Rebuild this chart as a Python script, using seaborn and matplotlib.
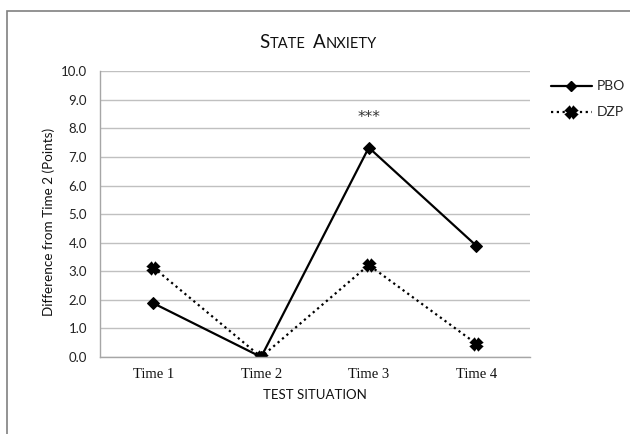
import matplotlib
matplotlib.use("Agg")
import matplotlib.pyplot as plt
import seaborn as sns
import pandas as pd
from matplotlib.lines import Line2D
from matplotlib.patches import Rectangle

categories = ["Time 1", "Time 2", "Time 3", "Time 4"]
pbo = [1.88, 0.0, 7.33, 3.89]
dzp = [3.13, 0.0, 3.22, 0.46]
series_names = ["PBO", "DZP"]
yticks = [0, 1, 2, 3, 4, 5, 6, 7, 8, 9, 10]

df = pd.DataFrame({
    "time": categories * 2,
    "value": pbo + dzp,
    "group": ["PBO"] * 4 + ["DZP"] * 4,
})

sns.set_style("white")
plt.rcParams["font.family"] = ["Lato", "DejaVu Sans"]

W, H = 630, 434
fig = plt.figure(figsize=(6.3, 4.34), dpi=100)
ax = fig.add_axes([99.6 / W, 1 - 357 / H, (530.3 - 99.6) / W, (357 - 71.3) / H])

sns.lineplot(data=df, x="time", y="value", hue="group", style="group",
             palette={"PBO": "black", "DZP": "black"},
             markers={"PBO": "D", "DZP": "X"},
             dashes={"PBO": "", "DZP": (1, 1.6)},
             markersize=6, linewidth=1.6, legend=False, ax=ax, sort=False)
for ln in ax.lines:
    ln.set_markeredgecolor("black")
    if ln.get_marker() == "X":
        ln.set_markeredgewidth(2.0)
        ln.set_markersize(6.5)

ax.set_xlim(-0.5, 3.5)
ax.set_ylim(0, 10)
ax.set_yticks(yticks)
ax.set_yticklabels([f"{v:.1f}" for v in yticks], fontsize=9.5, color="#222222")
ax.set_xticks(range(4))
ax.set_xticklabels(categories, fontfamily="Liberation Serif", fontsize=10.5, color="#111111")
ax.set_xticks([-0.5, 0.5, 1.5, 2.5, 3.5], minor=True)
ax.tick_params(axis="x", which="major", length=0, pad=8)
ax.tick_params(axis="x", which="minor", length=4, color="#a6a6a6", width=1, direction="out")
ax.tick_params(axis="y", which="major", length=4, color="#a6a6a6", width=1, direction="out", pad=5)
ax.grid(axis="y", color="#c0c0c0", linewidth=1)
ax.set_axisbelow(True)
for s in ["top", "right"]:
    ax.spines[s].set_visible(False)
for s in ["left", "bottom"]:
    ax.spines[s].set_color("#a6a6a6")
    ax.spines[s].set_linewidth(1)

ax.set_xlabel("TEST SITUATION", fontsize=9.5, color="#111111", labelpad=6)
ax.set_ylabel("Difference from Time 2 (Points)", fontsize=9.7, color="#111111", labelpad=4)
ax.yaxis.label.set_y(0.474)

ax.text(2, 8.4, "***", ha="center", va="center", fontsize=11,
        fontfamily="DejaVu Sans", color="#333333")

# Legend
handles = [
    Line2D([], [], color="black", lw=1.6, marker="D", markersize=5, markeredgecolor="black"),
    Line2D([], [], color="black", lw=1.6, ls=(0, (1, 1.6)), marker="X", markersize=6.5,
           markeredgewidth=2.0, markeredgecolor="black"),
]
fig.legend(handles, series_names, loc="upper left",
           bbox_to_anchor=(538 / W, 1 - 68 / H), frameon=False,
           fontsize=10, handlelength=3.0, handletextpad=0.3, labelspacing=1.0)

# Title in small caps
renderer = fig.canvas.get_renderer()
pieces = [("S", 13.5), ("TATE", 10.5), ("  ", 10.5), ("A", 13.5), ("NXIETY", 10.5)]
x = 259.0
base_y = 1 - 48.5 / H
for txt, fs in pieces:
    if txt.strip() == "":
        x += 8
        continue
    t = fig.text(x / W, base_y, txt, fontsize=fs, va="baseline", ha="left", color="#111111")
    x += t.get_window_extent(renderer).width

# outer frame
fig.patches.append(Rectangle((7 / W, -0.1), 1.2, 1 - 11 / H + 0.1, transform=fig.transFigure,
                             fill=False, edgecolor="#808080", linewidth=1.2))

fig.savefig("out.png", dpi=100)
